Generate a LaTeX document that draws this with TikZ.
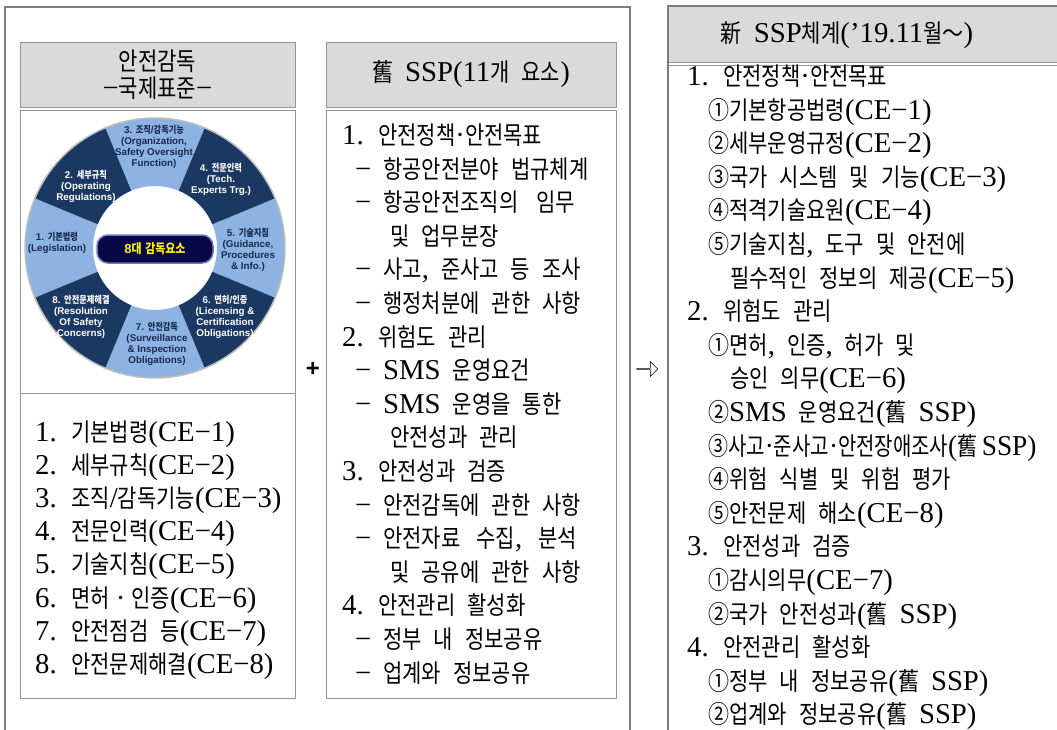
\documentclass[tikz,border=0pt]{standalone}
\usepackage{fontspec}
\usepackage{graphicx}
\usepackage{tikz}
\usetikzlibrary{positioning, shapes.arrows}

\setmainfont{Liberation Serif}[Scale=1.15]
\setsansfont{Liberation Sans}
\newfontfamily\krfont{Noto Sans CJK KR}[FakeStretch=0.84]
\newcommand{\latfont}{\rmfamily}

% hangul, hanja and circled numbers go to the korean font, the rest stays latin
\XeTeXinterchartokenstate=1
\newXeTeXintercharclass\hanclass
\count255="AC00
\loop
  \XeTeXcharclass\count255=\hanclass
  \ifnum\count255<"D7A3 \advance\count255 by 1
\repeat
\count255="2460
\loop
  \XeTeXcharclass\count255=\hanclass
  \ifnum\count255<"2473 \advance\count255 by 1
\repeat
\XeTeXcharclass`舊=\hanclass
\XeTeXcharclass`新=\hanclass
\XeTeXcharclass`～=\hanclass
\XeTeXinterchartoks 0 \hanclass = {\krfont}
\XeTeXinterchartoks 4095 \hanclass = {\krfont}
\XeTeXinterchartoks \hanclass 0 = {\latfont}
\XeTeXinterchartoks \hanclass 4095 = {\latfont}

\definecolor{darksec}{RGB}{27,56,99}
\definecolor{lightsec}{RGB}{141,179,226}
\definecolor{labelnavy}{RGB}{23,42,82}
\definecolor{corenavy}{RGB}{8,8,72}
\definecolor{corerim}{RGB}{110,120,180}
\definecolor{rimgray}{RGB}{190,190,190}
\definecolor{headgray}{RGB}{218,218,218}
\definecolor{rulegray}{RGB}{150,150,150}
\definecolor{framegray}{RGB}{125,125,125}

\newcommand{\bodyfont}{\fontsize{25}{33}\selectfont\spaceskip=12pt\relax}
\newcommand{\headfont}{\fontsize{25}{27}\selectfont\spaceskip=12pt\relax}
\newcommand{\labelfont}{\def\latfont{\sffamily}\sffamily\bfseries\fontsize{9.8}{11}\selectfont}
\newcommand{\dashitem}{\makebox[28pt][l]{−}}

\tikzset{
  outerframe/.style={draw=framegray, line width=2.5pt},
  headbox/.style={draw=rulegray, fill=headgray, line width=0.8pt, inner sep=0pt,
    outer sep=0pt, align=center, font=\headfont},
  pane/.style={draw=rulegray, line width=0.8pt, inner sep=0pt, outer sep=0pt},
  entry/.style={anchor=base west, inner sep=0pt, font=\bodyfont},
  seclabel/.style={align=center, inner sep=0pt, font=\labelfont},
  corebutton/.style={draw=corerim, line width=1.5pt, fill=corenavy, rounded corners=11pt,
    minimum width=116pt, minimum height=28pt, text=yellow,
    font={\def\latfont{\sffamily}\sffamily\bfseries\fontsize{13}{13}\selectfont}},
}

\begin{document}
\begin{tikzpicture}[x=1pt, y=-1pt]
\useasboundingbox (0,0) rectangle (1057,730);
\clip (0,0) rectangle (1057,730);

% left block: international standard + old SSP
\node (stdhead) [headbox, minimum width=275pt, minimum height=65pt] at (157.5,74.5) {안전감독\\−국제표준−};
\node (wheelpane) [pane, minimum width=275pt, minimum height=283pt, below=3pt of stdhead] {};
\node (cepane) [pane, minimum width=275pt, minimum height=305pt, below=0pt of wheelpane] {};
\node (oldhead) [headbox, minimum width=290pt, minimum height=65pt] at (471,74.5) {舊 SSP(11개 요소)};
\node (oldpane) [pane, minimum width=290pt, minimum height=588pt, below=3pt of oldhead] {};
\draw [outerframe] (5,740) |- (630,7) -- (630,740);

% right block: new SSP
\node (newhead) [headbox, minimum width=420pt, minimum height=56pt, anchor=north west] at (668,6) {};
\node (newtitle) [font=\headfont] at (847,35) {新 SSP체계(’19.11월～)};
\node (newpane) [pane, minimum width=420pt, minimum height=700pt, below=3pt of newhead] {};
\draw [outerframe] (668,740) |- (1070,6);

% wheel of the eight elements
\begin{scope}[shift={(155,248)}, y=1pt]
  \foreach \a in {180,90,0,-90}
    \fill [lightsec] (\a-22.5:62) arc (\a-22.5:\a+22.5:62) -- (\a+22.5:130) arc (\a+22.5:\a-22.5:130) -- cycle;
  \foreach \a in {135,45,-45,-135}
    \fill [darksec] (\a-22.5:62) arc (\a-22.5:\a+22.5:62) -- (\a+22.5:130) arc (\a+22.5:\a-22.5:130) -- cycle;
  \draw [rimgray, line width=1.5pt] (0,0) circle (130);
\end{scope}
\node (core) [corebutton] at (155,249) {8대 감독요소};
\node (sec1) [seclabel, text=labelnavy] at (57,242.5) {1. 기본법령\\(Legislation)};
\node (sec2) [seclabel, text=white] at (86,186) {2. 세부규칙\\(Operating\\Regulations)};
\node (sec3) [seclabel, text=labelnavy] at (154,147) {3. 조직/감독기능\\(Organization,\\Safety Oversight\\Function)};
\node (sec4) [seclabel, text=white] at (221,179) {4. 전문인력\\(Tech.\\Experts Trg.)};
\node (sec5) [seclabel, text=labelnavy] at (248,249.5) {5. 기술지침\\(Guidance,\\Procedures\\\& Info.)};
\node (sec6) [seclabel, text=white] at (225,316.5) {6. 면허/인증\\(Licensing \&\\Certification\\Obligations)};
\node (sec7) [seclabel, text=labelnavy] at (157,343.5) {7. 안전감독\\(Surveillance\\\& Inspection\\Obligations)};
\node (sec8) [seclabel, text=white] at (81,316.5) {8. 안전문제해결\\(Resolution\\Of Safety\\Concerns)};

% plus and arrow between the blocks
\node (plus) [font=\sffamily\bfseries\fontsize{24}{24}\selectfont] at (313,369) {+};
\node (toarrow) [single arrow, draw, line width=0.6pt, fill=white, inner sep=0pt,
  minimum height=21pt, minimum width=15pt, single arrow head extend=3.5pt] at (647,369) {};

% critical elements
\foreach \txt [count=\i from 0] in {{1. 기본법령(CE−1)}, {2. 세부규칙(CE−2)},
  {3. 조직/감독기능(CE−3)}, {4. 전문인력(CE−4)}, {5. 기술지침(CE−5)},
  {6. 면허\hspace{6pt}·\hspace{6pt}인증(CE−6)}, {7. 안전점검 등(CE−7)}, {8. 안전문제해결(CE−8)}}
  \node (ce\i) [entry] at (35,{441.5+33.1*\i}) {\txt};

% old SSP components
\foreach \x/\txt [count=\i from 0] in {
  342/{1. 안전정책·안전목표},
  355/{\dashitem 항공안전분야 법규체계},
  355/{\dashitem 항공안전조직의\hspace{18pt}임무},
  390/{및 업무분장},
  355/{\dashitem 사고, 준사고 등 조사},
  355/{\dashitem 행정처분에 관한 사항},
  342/{2. 위험도 관리},
  355/{\dashitem SMS 운영요건},
  355/{\dashitem SMS 운영을 통한},
  390/{안전성과 관리},
  342/{3. 안전성과 검증},
  355/{\dashitem 안전감독에 관한 사항},
  355/{\dashitem 안전자료\hspace{16pt}수집,\hspace{16pt}분석},
  390/{및 공유에 관한 사항},
  342/{4. 안전관리 활성화},
  355/{\dashitem 정부 내 정보공유},
  355/{\dashitem 업계와 정보공유}}
  \node (old\i) [entry] at (\x,{144.5+33.6*\i}) {\txt};

% new SSP components
\foreach \x/\txt [count=\i from 0] in {
  687/{1. 안전정책·안전목표},
  708/{①기본항공법령(CE−1)},
  708/{②세부운영규정(CE−2)},
  708/{③국가 시스템 및 기능(CE−3)},
  708/{④적격기술요원(CE−4)},
  708/{⑤기술지침, 도구 및 안전에},
  730/{필수적인 정보의 제공(CE−5)},
  687/{2. 위험도 관리},
  708/{①면허, 인증, 허가 및},
  730/{승인 의무(CE−6)},
  708/{②SMS 운영요건(舊 SSP)},
  708/{\scalebox{0.95}[1]{③사고·준사고·안전장애조사(舊\,SSP)}},
  708/{④위험 식별 및 위험 평가},
  708/{⑤안전문제 해소(CE−8)},
  687/{3. 안전성과 검증},
  708/{①감시의무(CE−7)},
  708/{②국가 안전성과(舊 SSP)},
  687/{4. 안전관리 활성화},
  708/{①정부 내 정보공유(舊 SSP)},
  708/{②업계와 정보공유(舊 SSP)}}
  \node (new\i) [entry] at (\x,{85.5+33.6*\i}) {\txt};
\end{tikzpicture}
\end{document}
